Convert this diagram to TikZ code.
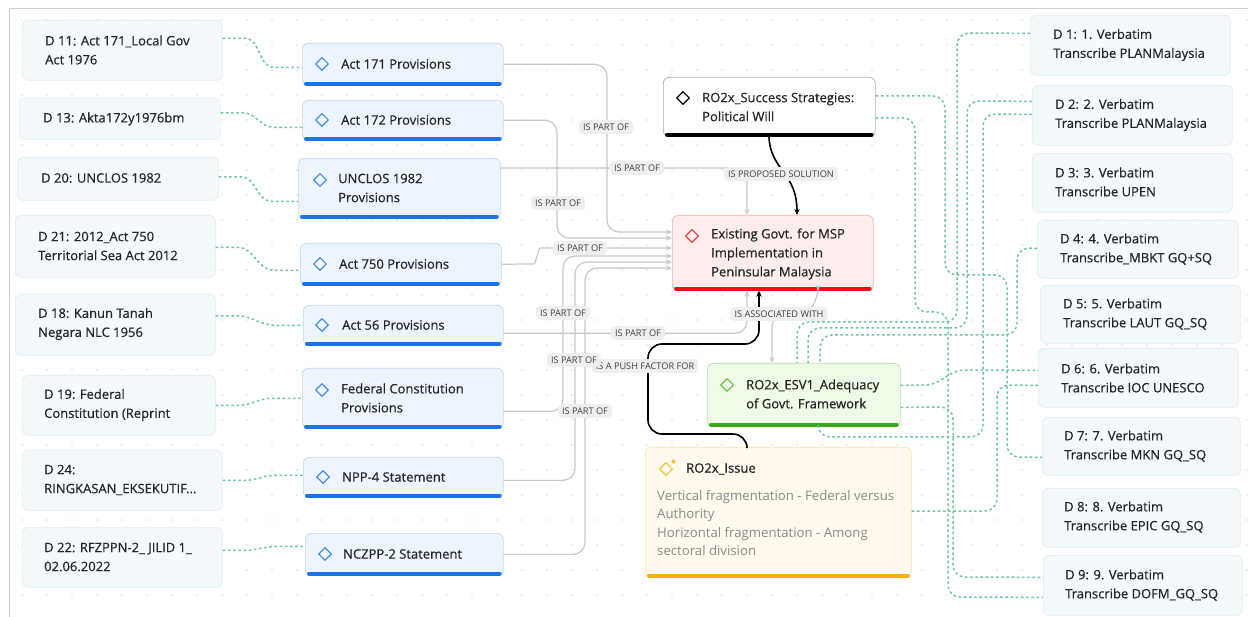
\documentclass[tikz,border=0pt]{standalone}
\usepackage{fontspec}
\setmainfont{Open Sans}
\newfontface\sbf{Open Sans}[FakeBold=0.6]
\usetikzlibrary{arrows.meta,calc,shapes.geometric}
\definecolor{docfill}{HTML}{F4F9FC}
\definecolor{docline}{HTML}{DFEDF4}
\definecolor{provfill}{HTML}{EDF4FD}
\definecolor{provline}{HTML}{BFD7F6}
\definecolor{provbar}{HTML}{1A73E8}
\definecolor{provicon}{HTML}{4A90E2}
\definecolor{sucline}{HTML}{B0B0B0}
\definecolor{exfill}{HTML}{FDEDED}
\definecolor{exline}{HTML}{F3B3B3}
\definecolor{exbar}{HTML}{E8101A}
\definecolor{exicon}{HTML}{E8424A}
\definecolor{esvfill}{HTML}{EFFAE7}
\definecolor{esvline}{HTML}{B5E597}
\definecolor{esvbar}{HTML}{3BAA1A}
\definecolor{esvicon}{HTML}{6CC04A}
\definecolor{issfill}{HTML}{FFF9EE}
\definecolor{issline}{HTML}{FDE3A8}
\definecolor{issbar}{HTML}{F9B000}
\definecolor{issicon}{HTML}{F6C23A}
\definecolor{dashc}{HTML}{6FC89D}
\definecolor{grayc}{HTML}{C8C8C8}
\definecolor{lblfill}{HTML}{EFEFEF}
\definecolor{lbltxt}{HTML}{404040}
\definecolor{txtc}{HTML}{262626}
\definecolor{bodytxt}{HTML}{8A8A8A}
\definecolor{dotc}{HTML}{DCDCDC}
\definecolor{framec}{HTML}{D0D0D0}
\newcommand\barline[2]{\draw[line width=4pt,#1,line cap=round] ([xshift=4pt,yshift=2pt]#2.south west) -- ([xshift=-4pt,yshift=2pt]#2.south east);}
\begin{document}
\begin{tikzpicture}[x=1pt,y=-1pt,
  box/.style={anchor=north west,inner sep=0pt,rounded corners=6pt,line width=0.7pt},
  doc/.style={box,draw=docline,fill=docfill},
  prov/.style={box,draw=provline,fill=provfill},
  txt/.style={anchor=west,align=left,inner sep=0pt,text=txtc,font=\sbf\fontsize{13}{19}\selectfont},
  body/.style={anchor=north west,align=left,inner sep=0pt,text=bodytxt,font=\fontsize{13.2}{18.5}\selectfont},
  icon/.style={diamond,draw=#1,line width=1.1pt,minimum size=13pt,inner sep=0pt},
  lbl/.style={fill=lblfill,rounded corners=4pt,inner xsep=4pt,inner ysep=3.5pt,text=lbltxt,font=\fontsize{9.2}{11}\selectfont},
  dshl/.style={draw=dashc,line width=1.5pt,dash pattern=on 2.6pt off 2.6pt},
  dsh/.style={dshl,rounded corners=12pt},
  gcon/.style={draw=grayc,line width=1.2pt,rounded corners=12pt,-{Stealth[length=6pt,width=5pt]}},
  bcon/.style={draw=black,line width=1.6pt,rounded corners=14pt,-{Stealth[length=6pt,width=5.5pt]}}]
\useasboundingbox (0,0) rectangle (1248,617);
\fill[white] (0,0) rectangle (1248,617);
\foreach \x in {22,47,...,1247} {\foreach \y in {20,45,...,615} {\fill[dotc] (\x,\y) circle (0.8pt);}}
\draw[framec,line width=0.8pt] (9,617) -- (9,8) -- (1248,8);

% left documents
\node[doc,minimum width=200pt,minimum height=60pt] (d11) at (22,20) {};
\node[doc,minimum width=201pt,minimum height=41pt] (d13) at (19,98) {};
\node[doc,minimum width=201pt,minimum height=43pt] (d20) at (17,157) {};
\node[doc,minimum width=200pt,minimum height=62pt] (d21) at (15,215) {};
\node[doc,minimum width=200pt,minimum height=61pt] (d18) at (15,294) {};
\node[doc,minimum width=193pt,minimum height=60pt] (d19) at (22,375) {};
\node[doc,minimum width=200pt,minimum height=60pt] (d24) at (22,450) {};
\node[doc,minimum width=200pt,minimum height=60pt] (d22) at (22,527) {};
\node[txt] (td11) at (45,50) {D 11: Act 171\_Local Gov\\Act 1976};
\node[txt] (td13) at (43,119) {D 13: Akta172y1976bm};
\node[txt] (td20) at (41,178) {D 20: UNCLOS 1982};
\node[txt] (td21) at (38,246) {D 21: 2012\_Act 750\\Territorial Sea Act 2012};
\node[txt] (td18) at (38,324) {D 18: Kanun Tanah\\Negara NLC 1956};
\node[txt] (td19) at (44,405) {D 19: Federal\\Constitution (Reprint};
\node[txt] (td24) at (44,480) {D 24:\\RINGKASAN\_EKSEKUTIF...};
\node[txt] (td22) at (44,557) {D 22: RFZPPN-2\_ JILID 1\_\\02.06.2022};

% provisions
\node[prov,minimum width=201pt,minimum height=42pt] (p171) at (302,43) {};
\node[prov,minimum width=201pt,minimum height=40pt] (p172) at (302,100) {};
\node[prov,minimum width=202pt,minimum height=60pt] (unc) at (298,158) {};
\node[prov,minimum width=201pt,minimum height=42pt] (p750) at (300,243) {};
\node[prov,minimum width=200pt,minimum height=40pt] (p56) at (303,305) {};
\node[prov,minimum width=201pt,minimum height=60pt] (fc) at (302,368) {};
\node[prov,minimum width=200pt,minimum height=40pt] (npp) at (303,457) {};
\node[prov,minimum width=198pt,minimum height=42pt] (ncz) at (305,533) {};
\foreach \n in {p171,p172,unc,p750,p56,fc,npp,ncz} {\barline{provbar}{\n}}
\node[icon=provicon] (ip171) at (322,64) {};
\node[icon=provicon] (ip172) at (322,120) {};
\node[icon=provicon] (iunc) at (320,180) {};
\node[icon=provicon] (ip750) at (320,264) {};
\node[icon=provicon] (ip56) at (322,325) {};
\node[icon=provicon] (ifc) at (322,390) {};
\node[icon=provicon] (inpp) at (323,477) {};
\node[icon=provicon] (incz) at (325,554) {};
\node[txt] (tp171) at (341,64) {Act 171 Provisions};
\node[txt] (tp172) at (341,120) {Act 172 Provisions};
\node[txt] (tunc) at (338,188) {UNCLOS 1982\\Provisions};
\node[txt] (tp750) at (339,264) {Act 750 Provisions};
\node[txt] (tp56) at (342,325) {Act 56 Provisions};
\node[txt] (tfc) at (341,398) {Federal Constitution\\Provisions};
\node[txt] (tnpp) at (342,477) {NPP-4 Statement};
\node[txt] (tncz) at (343,554) {NCZPP-2 Statement};

% center nodes
\node[box,draw=sucline,fill=white,minimum width=212pt,minimum height=59pt] (suc) at (663,77) {};
\barline{black}{suc}
\node[icon=black] (isuc) at (683,98) {};
\node[txt] (tsuc) at (702,107) {RO2x\_Success Strategies:\\Political Will};

\node[box,draw=exline,fill=exfill,minimum width=201pt,minimum height=75pt] (ex) at (672,215) {};
\barline{exbar}{ex}
\node[icon=exicon] (iex) at (692,236) {};
\node[txt] (tex) at (711,254) {Existing Govt. for MSP\\Implementation in\\Peninsular Malaysia};

\node[box,draw=esvline,fill=esvfill,minimum width=193pt,minimum height=63pt] (esv) at (707,363) {};
\barline{esvbar}{esv}
\node[icon=esvicon] (iesv) at (727,385) {};
\node[txt] (tesv) at (746,394) {RO2x\_ESV1\_Adequacy\\of Govt. Framework};

\node[box,draw=issline,fill=issfill,minimum width=266pt,minimum height=130pt] (iss) at (645,447) {};
\barline{issbar}{iss}
\node[icon=issicon] (iiss) at (666,469) {};
\fill[issicon] (673.5,461.5) circle (2pt);
\node[txt] (tiss) at (686,469) {RO2x\_Issue};
\node[body] (biss) at (657,490) {Vertical fragmentation - Federal versus\\Authority\\Horizontal fragmentation - Among\\sectoral division};

% right documents
\node[doc,minimum width=200pt,minimum height=60pt] (d1) at (1030,15) {};
\node[doc,minimum width=200pt,minimum height=60pt] (d2) at (1032,85) {};
\node[doc,minimum width=200pt,minimum height=59pt] (d3) at (1032,153) {};
\node[doc,minimum width=201pt,minimum height=58pt] (d4) at (1037,220) {};
\node[doc,minimum width=200pt,minimum height=58pt] (d5) at (1040,285) {};
\node[doc,minimum width=200pt,minimum height=59pt] (d6) at (1038,348) {};
\node[doc,minimum width=198pt,minimum height=58pt] (d7) at (1042,417) {};
\node[doc,minimum width=198pt,minimum height=59pt] (d8) at (1042,488) {};
\node[doc,minimum width=199pt,minimum height=60pt] (d9) at (1043,555) {};
\node[txt] (td1) at (1053,45) {D 1: 1. Verbatim\\Transcribe PLANMalaysia};
\node[txt] (td2) at (1055,115) {D 2: 2. Verbatim\\Transcribe PLANMalaysia};
\node[txt] (td3) at (1055,182) {D 3: 3. Verbatim\\Transcribe UPEN};
\node[txt] (td4) at (1060,249) {D 4: 4. Verbatim\\Transcribe\_MBKT GQ+SQ};
\node[txt] (td5) at (1063,314) {D 5: 5. Verbatim\\Transcribe LAUT GQ\_SQ};
\node[txt] (td6) at (1061,378) {D 6: 6. Verbatim\\Transcribe IOC UNESCO};
\node[txt] (td7) at (1064,446) {D 7: 7. Verbatim\\Transcribe MKN GQ\_SQ};
\node[txt] (td8) at (1064,517) {D 8: 8. Verbatim\\Transcribe EPIC GQ\_SQ};
\node[txt] (td9) at (1065,585) {D 9: 9. Verbatim\\Transcribe DOFM\_GQ\_SQ};

% left dashed connectors
\draw[dshl] ($(d11.east)+(0,-12)$) -- ++(22,0) to[out=0,in=180] ($(p171.west)+(-28,3)$) -- ($(p171.west)+(0,3)$);
\draw[dshl] ($(d13.east)+(0,-6)$) -- ++(22,0) to[out=0,in=180] ($(p172.west)+(-28,7)$) -- ($(p172.west)+(0,7)$);
\draw[dshl] ($(d20.east)+(0,-2)$) -- ++(22,0) to[out=0,in=180] ($(unc.west)+(-26,13)$) -- ($(unc.west)+(0,13)$);
\draw[dshl] ($(d21.east)+(0,1)$) -- ++(22,0) to[out=0,in=180] ($(p750.west)+(-26,6)$) -- ($(p750.west)+(0,6)$);
\draw[dshl] ($(d18.east)+(0,-9)$) -- ++(22,0) to[out=0,in=180] ($(p56.west)+(-28,0)$) -- (p56.west);
\draw[dshl] (d19.east) -- ++(22,0) to[out=0,in=180] ($(fc.west)+(-30,0)$) -- (fc.west);
\draw[dshl] (d24.east) -- ++(22,0) to[out=0,in=180] ($(npp.west)+(-28,-2)$) -- ($(npp.west)+(0,-2)$);
\draw[dshl] ($(d22.east)+(0,-7)$) -- ++(22,0) to[out=0,in=180] ($(ncz.west)+(-28,-8)$) -- ($(ncz.west)+(0,-8)$);

% right dashed connectors
\draw[dsh] ($(suc.east)+(0,-11)$) -- (945,96) -- (945,275) -- (1007,275) -- (1007,457) -- ($(d7.west)+(0,11)$);
\draw[dsh] ($(suc.east)+(0,11)$) -- (915,118) -- (915,312) -- (948,312) -- (948,597) -- ($(d9.west)+(0,12)$);
\draw[dsh] ($(d1.west)+(0,-12)$) -- (957,33) -- (957,322) -- (797,322) -- ($(esv.north west)+(90,0)$);
\draw[dsh] ($(d2.west)+(0,-14)$) -- (967,101) -- (967,328) -- (808,328) -- ($(esv.north west)+(101,0)$);
\draw[dsh] ($(d4.west)+(0,-1)$) -- (1017,248) -- (1017,335) -- (820,335) -- ($(esv.north west)+(113,0)$);
\draw[dsh] ($(d2.west)+(0,-1)$) -- (983,114) -- (983,437) -- (818,437) -- ($(esv.south west)+(111,0)$);
\draw[dshl] ($(esv.east)+(0,-9.5)$) -- (925,385) to[out=0,in=180] (965,370) -- ($(d6.west)+(0,-7.5)$);
\draw[dsh] ($(esv.east)+(0,12.5)$) -- (953,407) -- (953,577) -- ($(d9.west)+(0,-8)$);
\draw[dsh] ($(iss.north east)+(0,64)$) -- (997,511) -- (997,385) -- ($(d6.west)+(0,7.5)$);

% gray connectors to Existing
\draw[gcon] (p171.east) -| (607,232) -- ($(ex.north west)+(0,17)$);
\draw[gcon] (p172.east) -| (557,238) -- ($(ex.north west)+(0,23)$);
\draw[gcon] ($(unc.north east)+(0,10)$) -| ($(ex.north west)+(75,0)$);
\draw[gcon] (p750.east) -- (522,264) to[out=0,in=180] (552,248) -- ($(ex.north west)+(0,33)$);
\draw[gcon] ($(p56.east)+(0,8)$) -| ($(ex.south west)+(75,0)$);
\draw[gcon] ($(fc.east)+(0,13)$) -| (563,256) -- ($(ex.north west)+(0,41)$);
\draw[gcon] ($(npp.east)+(0,3)$) -| (575,262) -- ($(ex.north west)+(0,47)$);
\draw[gcon] ($(ncz.east)+(0,0)$) -| (585,268) -- ($(ex.north west)+(0,53)$);
\draw[gcon,{Stealth[length=6pt,width=5pt]}-{Stealth[length=6pt,width=5pt]}] ($(ex.south west)+(146,0)$) -- (818,300) -- (806,314) -- (772,314) -- ($(esv.north west)+(65,0)$);

% black connectors
\draw[bcon] ($(suc.south west)+(106,0)$) .. controls (770,170) and (797,172) .. ($(ex.north west)+(125,0)$);
\draw[bcon] ($(iss.north west)+(102,0)$) -- (747,434) -- (648,434) -- (648,344) -- (759,344) -- ($(ex.south west)+(87,0)$);

% labels
\node[lbl] (lpush) at (645,366) {IS A PUSH FACTOR FOR};
\node[lbl] (l171) at (606,127) {IS PART OF};
\node[lbl] (l172) at (558,203) {IS PART OF};
\node[lbl] (lunc) at (637,168) {IS PART OF};
\node[lbl] (l750) at (580,248) {IS PART OF};
\node[lbl] (l56) at (638,333) {IS PART OF};
\node[lbl] (lfc) at (563,313) {IS PART OF};
\node[lbl] (lnpp) at (574,360) {IS PART OF};
\node[lbl] (lncz) at (585,411) {IS PART OF};
\node[lbl] (lsol) at (781,174) {IS PROPOSED SOLUTION};
\node[lbl] (lass) at (779,314) {IS ASSOCIATED WITH};
\end{tikzpicture}
\end{document}
